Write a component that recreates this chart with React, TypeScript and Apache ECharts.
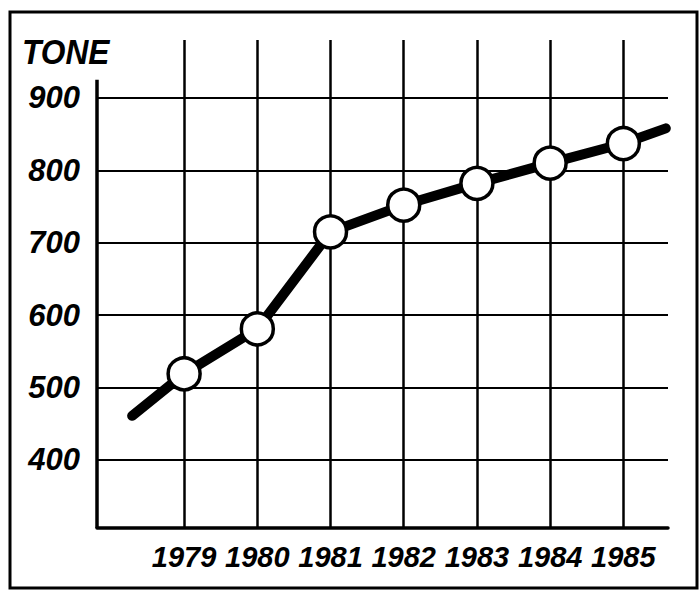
import React, { useEffect, useRef } from 'react';
import * as echarts from 'echarts';

const years = [1979, 1980, 1981, 1982, 1983, 1984, 1985];
const tonnes = [519, 581, 715, 752, 782, 810, 837];
const lineStart = [1978.29, 461];
const lineEnd = [1985.58, 858];
const yTickValues = [400, 500, 600, 700, 800, 900];
const unitLabel = 'TONE';

const xMin = 1977.81;
const xMax = 1985.61;
const yMin = 306;
const yMax = 980;
const yAxisTop = 925;

export default function App() {
  const ref = useRef<HTMLDivElement>(null);
  useEffect(() => {
    document.body.style.margin = '0';
    const chart = echarts.init(ref.current as HTMLDivElement, null, { renderer: 'svg' });
    const lineData: any[] = [
      { value: lineStart, symbol: 'none' },
      ...years.map((y, i) => ({ value: [y, tonnes[i]] })),
      { value: lineEnd, symbol: 'none' },
    ];
    const gridStyle = { color: '#000', width: 2, type: 'solid' };
    const markData: any[] = [
      ...yTickValues.map((v) => ({ yAxis: v, lineStyle: { ...gridStyle } })),
      ...years.map((y) => [
        { coord: [y, yMin], lineStyle: { ...gridStyle, width: 2.5 } },
        { coord: [y, yMax] },
      ]),
      [
        { coord: [xMin, yMin], lineStyle: { color: '#000', width: 3.5, type: 'solid' } },
        { coord: [xMin, yAxisTop] },
      ],
    ];
    chart.setOption({
      animation: false,
      backgroundColor: '#fff',
      grid: { left: 97, right: 31, top: 40, bottom: 62 },
      xAxis: {
        type: 'value',
        min: xMin,
        max: xMax,
        axisLine: { show: true, onZero: false, lineStyle: { color: '#000', width: 3.5 } },
        axisTick: { show: false },
        splitLine: { show: false },
        axisLabel: {
          customValues: years,
          formatter: (v: number) => String(Math.round(v)),
          color: '#000',
          fontFamily: 'Liberation Sans',
          fontStyle: 'italic',
          fontWeight: 'bold',
          fontSize: 29,
          margin: 14,
        },
      },
      yAxis: {
        type: 'value',
        min: yMin,
        max: yMax,
        axisLine: { show: false },
        axisTick: { show: false },
        splitLine: { show: false },
        axisLabel: {
          customValues: yTickValues,
          formatter: (v: number) => String(Math.round(v)),
          color: '#000',
          fontFamily: 'Liberation Sans',
          fontStyle: 'italic',
          fontWeight: 'bold',
          fontSize: 31,
          margin: 17,
        },
      },
      graphic: [
        {
          type: 'rect',
          shape: { x: 10, y: 12, width: 687, height: 576 },
          style: { fill: 'none', stroke: '#000', lineWidth: 3 },
          silent: true,
        },
        {
          type: 'text',
          x: 22,
          y: 33,
          scaleX: 0.88,
          style: {
            text: unitLabel,
            fill: '#000',
            font: 'italic bold 36px "Liberation Sans"',
            textVerticalAlign: 'top',
          },
        },
      ],
      series: [
        {
          type: 'line',
          data: [],
          z: 1,
          silent: true,
          markLine: {
            silent: true,
            symbol: ['none', 'none'],
            label: { show: false },
            lineStyle: gridStyle,
            data: markData,
          },
        },
        {
          type: 'line',
          z: 5,
          clip: false,
          data: lineData,
          symbol: 'circle',
          symbolSize: 32,
          lineStyle: { color: '#000', width: 10, cap: 'round', join: 'round' },
          itemStyle: { color: '#fff', borderColor: '#000', borderWidth: 3.5 },
        },
      ],
    });
    return () => chart.dispose();
  }, []);
  return <div ref={ref} style={{ width: 699, height: 590 }} />;
}
